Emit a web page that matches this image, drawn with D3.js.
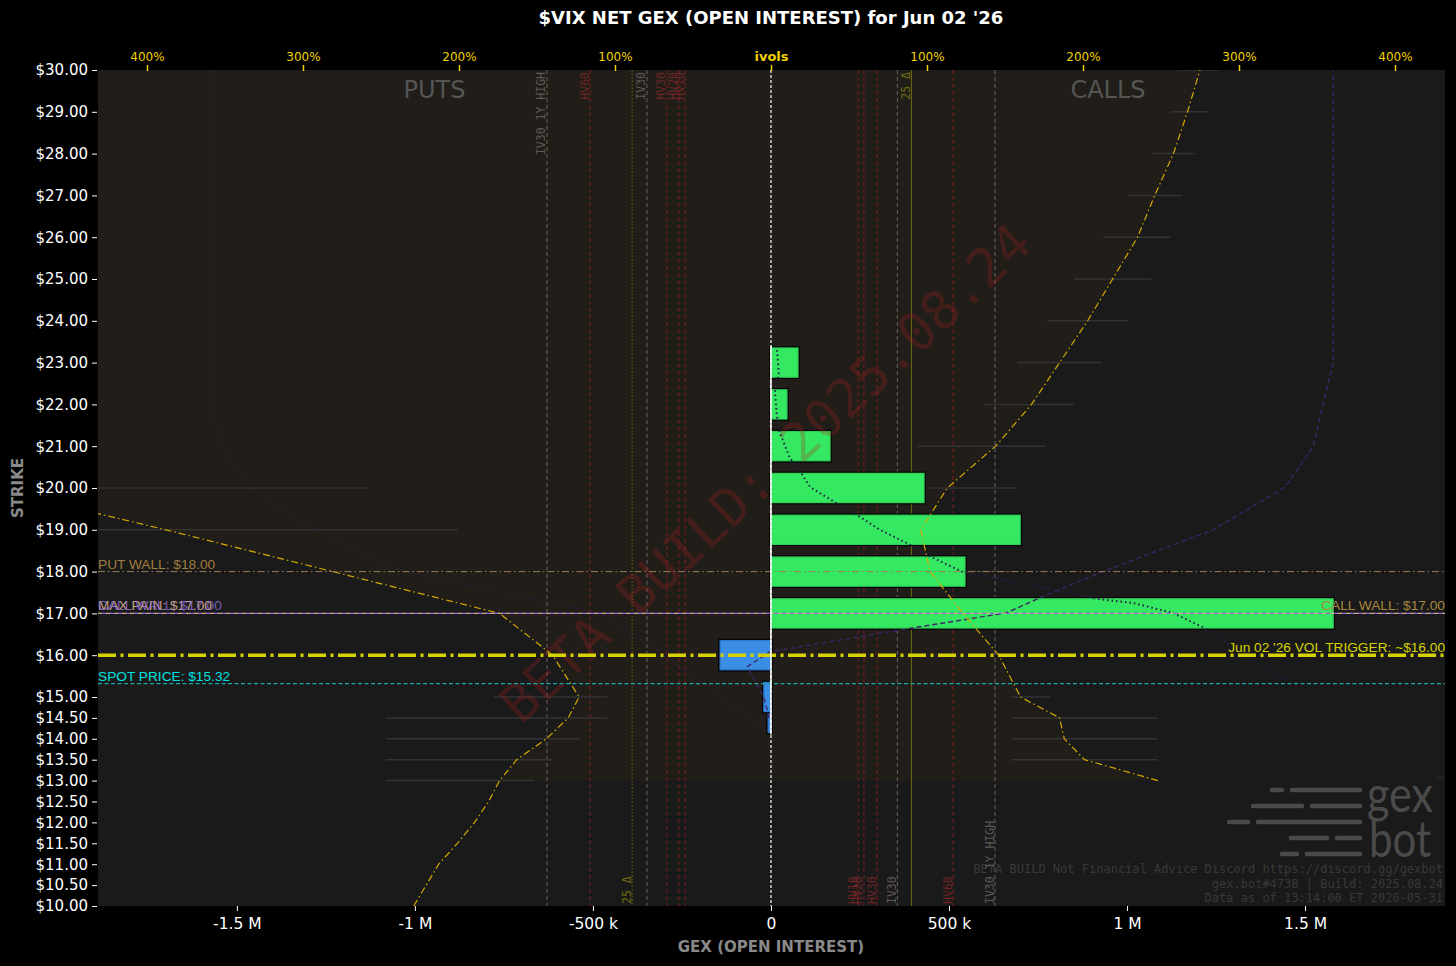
<!DOCTYPE html>
<html>
<head>
<meta charset="utf-8">
<title>VIX NET GEX</title>
<style>
  body { margin: 0; background: #000; }
  svg { display: block; }
</style>
<script src="https://cdnjs.cloudflare.com/ajax/libs/d3/7.8.5/d3.min.js"></script>
</head>
<body>
<svg id="chart" width="1456" height="966"></svg>
<script>
// ---- data ----
var strikeTicks = [10, 10.5, 11, 11.5, 12, 12.5, 13, 13.5, 14, 14.5, 15,
                   16, 17, 18, 19, 20, 21, 22, 23, 24, 25, 26, 27, 28, 29, 30];
var gexTicks = [-1500000, -1000000, -500000, 0, 500000, 1000000, 1500000];
var gexTickLabels = ['-1.5 M', '-1 M', '-500 k', '0', '500 k', '1 M', '1.5 M'];
var ivTicks = [-400, -300, -200, -100, 0, 100, 200, 300, 400];
var ivTickLabels = ['400%', '300%', '200%', '100%', 'ivols', '100%', '200%', '300%', '400%'];

// net gex per strike
var barStrikes = [14.5, 15, 16, 17, 18, 19, 20, 21, 22, 23];
var barGex = [-8000, -20000, -143000, 1579000, 545000, 700000, 430000, 166000, 45000, 76000];

// implied vol curves (percent)
var callIvStrikes = [13, 13.5, 14, 14.5, 15, 16, 17, 18, 19, 20, 21, 22, 23, 24, 25, 26, 27, 28, 29, 30];
var callIv = [248, 201, 188, 185, 160, 146, 123, 102, 96, 113, 144, 167, 185, 203, 219, 235, 246, 258, 267, 275];
var putIvStrikes = [10, 10.5, 11, 11.5, 12, 12.5, 13, 13.5, 14, 14.5, 15, 16, 17, 18, 19, 20,
                    21, 22, 23, 24, 25, 26, 27, 28, 29, 30];
var putIv = [229, 221, 213, 201, 190, 181, 174, 163, 144, 130, 123, 140, 174, 281, 388, 500,
             560, 610, 650, 690, 720, 750, 780, 800, 820, 840];

// iv bid / ask ranges
var callRangeStrikes = [13.5, 14, 14.5, 15, 18, 19, 20, 21, 22, 23, 24, 25, 26, 27, 28, 29, 30];
var callRangeLo = [154, 154, 154, 154, 123, 121, 83, 94, 137, 158, 177, 194, 213, 229, 244, 256, 263];
var callRangeHi = [248, 248, 248, 179, 154, 158, 158, 176, 194, 212, 229, 244, 256, 263, 272, 280, 287];
var putRangeStrikes = [13, 13.5, 14, 14.5, 15, 19, 20];
var putRangeLo = [152, 140, 122, 105, 105, 201, 259];
var putRangeHi = [247, 247, 247, 247, 178, 440, 460];

// faint profile lines
var dotStrikes = [23.3, 22.75, 22.3, 21.7, 21.32, 20.72, 20.33, 20.02, 19.69, 19.35, 19.0, 18.68,
                  18.33, 17.99, 17.34, 17.25, 17.01, 16.67, 15.41];
var dotGex = [17000, 22000, 11000, 17000, 25000, 53000, 87000, 110000, 174000, 242000, 306000, 382000,
              455000, 539000, 924000, 1017000, 1129000, 1213000, 1449000];
var cumStrikes = [14.5, 15.0, 15.72, 16.08, 16.65, 17.01, 17.34, 17.8, 18.28, 19.0, 20.02, 20.98, 23.0, 30];
var cumGex = [-5000, -20000, -67000, -3000, 396000, 660000, 747000, 874000, 1017000, 1242000, 1444000,
              1522000, 1579000, 1579000];
var putCumStrikes = [30, 22.03, 20.98, 20.02, 19.0, 18.04, 17.0, 16.0, 14.16];
var putCumGex = [-1573000, -1573000, -1545000, -1469000, -1281000, -1048000, -480000, -300000, -3000];

// vol reference levels (percent)
var ivLineNames = ['HV10', 'HV20', 'HV30', 'IV30', 'HV60', 'IV30 1Y HIGH', '25 \u0394'];
var putIvLines = [55, 59, 66.7, 79.5, 116, 143.6, 89];
var callIvLines = [55.8, 59.6, 68, 81, 116.7, 143.6, 90];

// price levels
var spotPrice = 15.32;
var putWall = 18;
var callWall = 17;
var maxPain = 17;
var volTrigger = 16;

var footerLines = ['BETA BUILD Not Financial Advice Discord https://discord.gg/gexbot',
                   'gex.bot#4738 | Build: 2025.08.24',
                   'Data as of 13:14:00 ET 2026-05-31'];

// ---- layout ----
var W = 1456, H = 966;
var pL = 98, pR = 1445, pT = 70, pB = 906;

var svg = d3.select('#chart');
var x = d3.scaleLinear().domain([-1890000, 1893000]).range([pL, pR]);
var y = d3.scaleLinear().domain([10, 30]).range([pB, pT]);
var iv = d3.scaleLinear().domain([-431.4, 432.05]).range([pL, pR]);

svg.append('rect').attr('width', W).attr('height', H).attr('fill', '#000');

svg.append('defs').append('clipPath').attr('id', 'plotclip')
    .append('rect').attr('x', pL).attr('y', pT)
    .attr('width', pR - pL).attr('height', pB - pT);

var plot = svg.append('g').attr('clip-path', 'url(#plotclip)');

plot.append('rect')
    .attr('x', pL).attr('y', pT)
    .attr('width', pR - pL).attr('height', pB - pT)
    .attr('fill', '#1a1a1a');

// fill between the two iv curves
var fillRows = callIvStrikes.map(function (s, i) {
    return { strike: s, call: callIv[i], put: putIv[putIvStrikes.indexOf(s)] };
});
plot.append('path')
    .datum(fillRows)
    .attr('d', d3.area()
        .y(function (d) { return y(d.strike); })
        .x0(function (d) { return iv(-d.put); })
        .x1(function (d) { return iv(d.call); }))
    .attr('fill', '#211e19');

// vertical vol levels
function levelColor(name) {
    if (name.indexOf('HV') === 0) return { line: '#7a1f1f', text: '#6e2424', dash: '4,3' };
    if (name.indexOf('IV') === 0) return { line: '#6a6262', text: '#5e5858', dash: '4,3' };
    return { line: '#6e6a12', text: '#6e6a12', dash: '1.5,2' };
}
ivLineNames.forEach(function (name, i) {
    var c = levelColor(name);
    var px = iv(-putIvLines[i]);
    var cx = iv(callIvLines[i]);
    plot.append('line').attr('x1', px).attr('x2', px).attr('y1', pT).attr('y2', pB)
        .attr('stroke', c.line).attr('stroke-width', 1).attr('stroke-dasharray', c.dash);
    plot.append('line').attr('x1', cx).attr('x2', cx).attr('y1', pT).attr('y2', pB)
        .attr('stroke', c.line).attr('stroke-width', 1)
        .attr('stroke-dasharray', name === '25 \u0394' ? null : c.dash);
    var delta = name === '25 \u0394';
    // put side labels hang from the top, call side labels sit on the bottom (25 delta swapped)
    plot.append('text')
        .attr('transform', 'translate(' + (px - 1.5) + ',' + (delta ? pB - 2 : pT + 2) + ') rotate(-90)')
        .attr('text-anchor', delta ? 'start' : 'end')
        .attr('font-family', 'DejaVu Sans Mono').attr('font-size', 11.5)
        .attr('fill', c.text).text(name);
    plot.append('text')
        .attr('transform', 'translate(' + (cx - 1.5) + ',' + (delta ? pT + 2 : pB - 2) + ') rotate(-90)')
        .attr('text-anchor', delta ? 'end' : 'start')
        .attr('font-family', 'DejaVu Sans Mono').attr('font-size', 11.5)
        .attr('fill', c.text).text(name);
});

// iv bid/ask ranges
callRangeStrikes.forEach(function (s, i) {
    plot.append('line').attr('x1', iv(callRangeLo[i])).attr('x2', iv(callRangeHi[i]))
        .attr('y1', y(s)).attr('y2', y(s)).attr('stroke', '#333').attr('stroke-width', 1.5);
});
putRangeStrikes.forEach(function (s, i) {
    plot.append('line').attr('x1', iv(-putRangeHi[i])).attr('x2', iv(-putRangeLo[i]))
        .attr('y1', y(s)).attr('y2', y(s)).attr('stroke', '#333').attr('stroke-width', 1.5);
});

// PUTS / CALLS headers
plot.append('text').attr('x', (pL + x(0)) / 2).attr('y', 98).attr('text-anchor', 'middle')
    .attr('font-family', 'DejaVu Sans').attr('font-size', 24).attr('fill', '#555').text('PUTS');
plot.append('text').attr('x', (pR + x(0)) / 2).attr('y', 98).attr('text-anchor', 'middle')
    .attr('font-family', 'DejaVu Sans').attr('font-size', 24).attr('fill', '#555').text('CALLS');

// bars
var barH = 0.35;
barStrikes.forEach(function (s, i) {
    var v = barGex[i];
    var x0 = Math.min(x(0), x(v)), w = Math.abs(x(v) - x(0));
    var y0 = y(s + barH), h = y(s - barH) - y(s + barH);
    plot.append('rect').attr('x', x0).attr('y', y0).attr('width', w).attr('height', h)
        .attr('fill', 'none').attr('stroke', '#000').attr('stroke-width', 3.5);
    plot.append('rect').attr('x', x0).attr('y', y0).attr('width', w).attr('height', h)
        .attr('fill', v >= 0 ? '#35e862' : '#3a8ee6')
        .attr('stroke', v >= 0 ? '#2fcf57' : '#2f78c8').attr('stroke-width', 1.2);
});

// watermark
plot.append('text')
    .attr('transform', 'translate(768,476) rotate(-43)')
    .attr('text-anchor', 'middle').attr('dominant-baseline', 'middle')
    .attr('font-family', 'DejaVu Sans Mono').attr('font-size', 53)
    .attr('fill', 'rgba(170,30,30,0.26)').text('BETA BUILD: 2025.08.24');

var lineGex = d3.line()
    .x(function (d) { return x(d[1]); })
    .y(function (d) { return y(d[0]); });

plot.append('path').datum(putCumStrikes.map(function (s, i) { return [s, putCumGex[i]]; }))
    .attr('d', lineGex).attr('fill', 'none').attr('stroke', '#33204a')
    .attr('stroke-width', 1.1).attr('stroke-dasharray', '1.5,2.5');
plot.append('path').datum(cumStrikes.map(function (s, i) { return [s, cumGex[i]]; }))
    .attr('d', lineGex).attr('fill', 'none').attr('stroke', '#3e2366')
    .attr('stroke-width', 1.4).attr('stroke-dasharray', '5,3');
plot.append('path').datum(dotStrikes.map(function (s, i) { return [s, dotGex[i]]; }))
    .attr('d', lineGex).attr('fill', 'none').attr('stroke', '#222244')
    .attr('stroke-width', 2).attr('stroke-dasharray', '1.5,3');

// iv curves
var lineIv = d3.line()
    .x(function (d) { return iv(d[1]); })
    .y(function (d) { return y(d[0]); });
plot.append('path').datum(callIvStrikes.map(function (s, i) { return [s, callIv[i]]; }))
    .attr('d', lineIv).attr('fill', 'none').attr('stroke', '#d4aa00')
    .attr('stroke-width', 1.2).attr('stroke-dasharray', '7,3,1.5,3');
plot.append('path').datum(putIvStrikes.map(function (s, i) { return [s, -putIv[i]]; }))
    .attr('d', lineIv).attr('fill', 'none').attr('stroke', '#d4aa00')
    .attr('stroke-width', 1.2).attr('stroke-dasharray', '7,3,1.5,3');

// horizontal price levels
function hline(v, color, width, dash, offset) {
    plot.append('line').attr('x1', pL).attr('x2', pR).attr('y1', y(v)).attr('y2', y(v))
        .attr('stroke', color).attr('stroke-width', width)
        .attr('stroke-dasharray', dash).attr('stroke-dashoffset', offset || 0);
}
function hlabel(v, txt, color, anchorRight) {
    plot.append('text').attr('x', anchorRight ? pR : pL).attr('y', y(v) - 3)
        .attr('text-anchor', anchorRight ? 'end' : 'start')
        .attr('font-family', 'Liberation Sans').attr('font-size', 13.7)
        .attr('fill', color).text(txt);
}
hline(putWall, '#9a7d55', 1, '7,3,1.5,3');
hline(callWall, '#d2aa8a', 1.3, '5,3');
hline(maxPain, '#8a6ad8', 1.3, '4,4', 4);
hline(volTrigger, '#d6d200', 3.5, '18,4.5,3,4.5');
hline(spotPrice, '#1aa8a8', 1.3, '4,2.5');

hlabel(putWall, 'PUT WALL: $' + putWall.toFixed(2), '#a07c3e', false);
hlabel(maxPain, 'MAX PAIN: $' + maxPain.toFixed(2), '#c8a286', false);
hlabel(callWall, 'CALL WALL: $' + callWall.toFixed(2), 'rgba(140,110,220,0.85)', false);
hlabel(callWall, 'CALL WALL: $' + callWall.toFixed(2), '#a8873e', true);
hlabel(volTrigger, "Jun 02 '26 VOL TRIGGER: ~$" + volTrigger.toFixed(2), '#d6d200', true);
hlabel(spotPrice, 'SPOT PRICE: $' + spotPrice.toFixed(2), '#00e0e0', false);

// zero line
plot.append('line').attr('x1', x(0)).attr('x2', x(0)).attr('y1', pT).attr('y2', pB)
    .attr('stroke', '#fff').attr('stroke-width', 1.2).attr('stroke-dasharray', '3,2');
plot.append('line').attr('x1', x(0)).attr('x2', x(0)).attr('y1', y(23.4)).attr('y2', y(14.1))
    .attr('stroke', '#fff').attr('stroke-width', 1.5);

// gexbot logo
var logo = svg.append('g').attr('stroke', '#4a4a4a').attr('stroke-width', 4.5).attr('stroke-linecap', 'round');
[[790, 1272, 1282], [790, 1292, 1360], [806, 1253, 1302], [806, 1312, 1360],
 [822, 1229, 1248], [822, 1258, 1360], [838, 1291, 1327], [838, 1337, 1360],
 [854, 1282, 1297], [854, 1307, 1360]].forEach(function (r) {
    logo.append('line').attr('x1', r[1]).attr('x2', r[2]).attr('y1', r[0]).attr('y2', r[0]);
});
svg.append('text').attr('x', 1367).attr('y', 812).attr('font-family', 'Lato').attr('font-size', 50)
    .attr('textLength', 66).attr('lengthAdjust', 'spacingAndGlyphs')
    .attr('fill', '#4a4a4a').text('gex');
svg.append('text').attr('x', 1369).attr('y', 857).attr('font-family', 'Lato').attr('font-size', 50)
    .attr('textLength', 62).attr('lengthAdjust', 'spacingAndGlyphs')
    .attr('fill', '#4a4a4a').text('bot');
svg.append('text').attr('x', 1437).attr('y', 781).attr('font-family', 'DejaVu Sans').attr('font-size', 6)
    .attr('fill', '#4a4a4a').text('\u2122');

footerLines.forEach(function (t, i) {
    svg.append('text').attr('x', 1443).attr('y', 873 + i * 14.5).attr('text-anchor', 'end')
        .attr('font-family', 'DejaVu Sans Mono').attr('font-size', 12)
        .attr('fill', '#393939').text(t);
});

// axes
var yAxis = svg.append('g').attr('transform', 'translate(' + (pL - 1) + ',0)')
    .call(d3.axisLeft(y).tickValues(strikeTicks).tickSize(5).tickPadding(4)
        .tickFormat(function (d) { return '$' + d.toFixed(2); }));
var xAxis = svg.append('g').attr('transform', 'translate(0,' + pB + ')')
    .call(d3.axisBottom(x).tickValues(gexTicks).tickSize(5).tickPadding(7)
        .tickFormat(function (d, i) { return gexTickLabels[i]; }));
var tAxis = svg.append('g').attr('transform', 'translate(0,' + (pT + 1) + ')')
    .call(d3.axisTop(iv).tickValues(ivTicks).tickSize(6).tickPadding(4)
        .tickFormat(function (d, i) { return ivTickLabels[i]; }));

[yAxis, xAxis].forEach(function (a) {
    a.select('.domain').remove();
    a.selectAll('line').attr('stroke', '#fff');
    a.selectAll('text').attr('fill', '#fff').attr('font-family', 'DejaVu Sans');
});
yAxis.selectAll('text').attr('font-size', 15);
xAxis.selectAll('text').attr('font-size', 15.5);
tAxis.select('.domain').remove();
tAxis.selectAll('line').attr('stroke', '#f0d000').attr('stroke-width', 1.5);
tAxis.selectAll('text').attr('fill', '#f0d000').attr('font-family', 'DejaVu Sans')
    .attr('font-weight', function (d) { return d === 0 ? 'bold' : 'normal'; })
    .attr('font-size', function (d) { return d === 0 ? 13 : 12; });

// titles
svg.append('text').attr('x', x(0)).attr('y', 24).attr('text-anchor', 'middle')
    .attr('font-family', 'DejaVu Sans').attr('font-weight', 'bold').attr('font-size', 18)
    .attr('fill', '#fff').text("$VIX NET GEX (OPEN INTEREST) for Jun 02 '26");
svg.append('text').attr('x', x(0)).attr('y', 952).attr('text-anchor', 'middle')
    .attr('font-family', 'DejaVu Sans').attr('font-weight', 'bold').attr('font-size', 15)
    .attr('fill', '#8a8a8a').text('GEX (OPEN INTEREST)');
svg.append('text').attr('transform', 'translate(23,' + ((pT + pB) / 2) + ') rotate(-90)')
    .attr('text-anchor', 'middle')
    .attr('font-family', 'DejaVu Sans').attr('font-weight', 'bold').attr('font-size', 15)
    .attr('fill', '#8a8a8a').text('STRIKE');
</script>
</body>
</html>
